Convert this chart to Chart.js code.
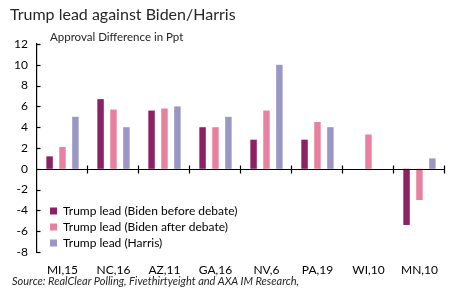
<!DOCTYPE html>
<html>
<head>
<meta charset="utf-8">
<script src="https://cdn.jsdelivr.net/npm/chart.js@4/dist/chart.umd.min.js"></script>
<style>
  html, body { margin: 0; padding: 0; background: #fff; }
  #wrap { position: relative; width: 449px; height: 289px; overflow: hidden; font-family: Lato, "Open Sans", sans-serif; }
  #c { position: absolute; left: 0; top: 0; }
  .txt { position: absolute; white-space: nowrap; color: #262626; }
  #title { left: 10px; top: 4px; font-size: 16px; }
  #sub { left: 50px; top: 30px; font-size: 11.5px; }
  #src { left: 12px; top: 274px; font-size: 11px; font-style: italic; }
</style>
</head>
<body>
<div id="wrap">
  <canvas id="c" width="449" height="289"></canvas>
  <div id="title" class="txt">Trump lead against Biden/Harris</div>
  <div id="sub" class="txt">Approval Difference in Ppt</div>
  <div id="src" class="txt">Source: RealClear Polling, Fivethirtyeight and AXA IM Research,</div>
</div>
<script>
const categories = ["MI,15", "NC,16", "AZ,11", "GA,16", "NV,6", "PA,19", "WI,10", "MN,10"];
const bidenBefore = [1.2, 6.7, 5.6, 4.0, 2.8, 2.8, null, -5.4];
const bidenAfter  = [2.1, 5.7, 5.8, 4.0, 5.6, 4.5, 3.3, -3.0];
const harris      = [5.0, 4.0, 6.0, 5.0, 10.0, 4.0, null, 1.0];
const seriesNames = ["Trump lead (Biden before debate)", "Trump lead (Biden after debate)", "Trump lead (Harris)"];
const yTickMin = -8, yTickMax = 12, yTickStep = 2;

const axisPlugin = {
  id: 'axisPlugin',
  afterLayout(chart) {
    if (chart.legend) { chart.legend.left += 9; chart.legend.top += 45; chart.legend.bottom += 45; }
  },
  afterDatasetsDraw(chart) {
    const {ctx, chartArea, scales} = chart;
    const y = scales.y, x = scales.x;
    const y0 = Math.round(y.getPixelForValue(0)) + 0.5;
    ctx.save();
    ctx.strokeStyle = '#000';
    ctx.lineWidth = 1.2;
    ctx.beginPath();
    ctx.moveTo(chartArea.left, y0);
    ctx.lineTo(chartArea.right, y0);
    ctx.stroke();
    const n = categories.length;
    for (let i = 1; i <= n; i++) {
      const bx = Math.round((x.getPixelForValue(i - 1) + (i < n ? x.getPixelForValue(i) : 2 * x.getPixelForValue(i - 1) - x.getPixelForValue(i - 2))) / 2) - 0.5;
      ctx.beginPath();
      ctx.moveTo(bx, y0 - 4);
      ctx.lineTo(bx, y0 + 4);
      ctx.stroke();
    }
    const ax = Math.round(chartArea.left) - 0.5;
    y.ticks.forEach(t => {
      const ty = Math.round(y.getPixelForValue(t.value)) + 0.5;
      ctx.beginPath();
      ctx.moveTo(ax, ty);
      ctx.lineTo(ax + 4, ty);
      ctx.stroke();
    });
    ctx.restore();
  }
};

new Chart(document.getElementById('c'), {
  type: 'bar',
  data: {
    labels: categories,
    datasets: [
      { label: seriesNames[0], data: bidenBefore, backgroundColor: '#8b2265' },
      { label: seriesNames[1], data: bidenAfter, backgroundColor: '#e8819f' },
      { label: seriesNames[2], data: harris, backgroundColor: '#9a97c6' }
    ]
  },
  options: {
    responsive: false,
    animation: false,
    devicePixelRatio: 1,
    layout: { padding: { top: 44, right: 1, left: 0, bottom: 7 } },
    datasets: { bar: { categoryPercentage: 0.76, barPercentage: 0.5 } },
    plugins: {
      title: { display: false },
      tooltip: { enabled: false },
      legend: {
        position: 'chartArea',
        align: 'end',
        labels: {
          boxWidth: 7, boxHeight: 7, padding: 4,
          color: '#000',
          font: { family: 'Lato', size: 12 }
        }
      }
    },
    scales: {
      x: {
        grid: { display: false, drawTicks: false },
        border: { display: false },
        ticks: { color: '#000', font: { family: 'Lato', size: 12 }, padding: 11, maxRotation: 0, autoSkip: false },
        afterFit(s) { s.height = 30; }
      },
      y: {
        min: yTickMin, max: yTickMax,
        grid: { display: false, drawTicks: false },
        border: { display: true, color: '#000', width: 1.2 },
        ticks: { stepSize: yTickStep, color: '#000', font: { family: 'Lato', size: 12 }, padding: 9 },
        afterFit(s) { s.width = 37; }
      }
    }
  },
  plugins: [axisPlugin]
});
</script>
</body>
</html>
